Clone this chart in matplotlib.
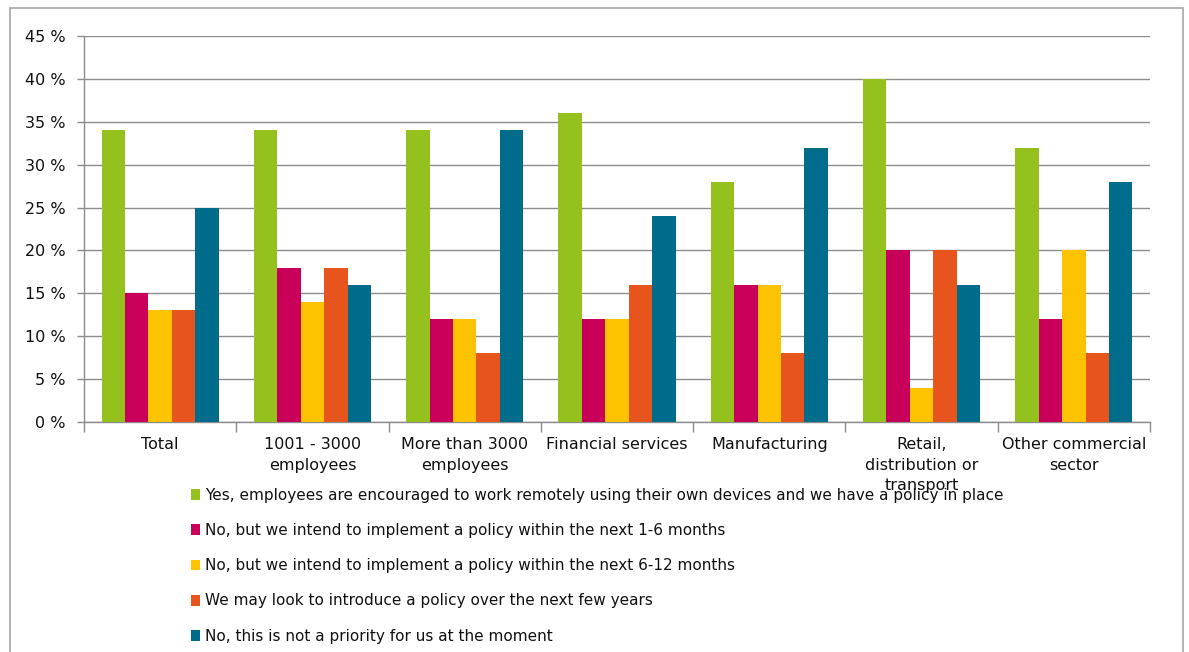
import matplotlib
matplotlib.use("Agg")
import matplotlib.pyplot as plt
from matplotlib.patches import Rectangle
import numpy as np

categories = ["Total", "1001 - 3000\nemployees", "More than 3000\nemployees",
              "Financial services", "Manufacturing",
              "Retail,\ndistribution or\ntransport", "Other commercial\nsector"]
series_labels = [
    "Yes, employees are encouraged to work remotely using their own devices and we have a policy in place",
    "No, but we intend to implement a policy within the next 1-6 months",
    "No, but we intend to implement a policy within the next 6-12 months",
    "We may look to introduce a policy over the next few years",
    "No, this is not a priority for us at the moment",
]
yes_policy = [34, 34, 34, 36, 28, 40, 32]
within_1_6 = [15, 18, 12, 12, 16, 20, 12]
within_6_12 = [13, 14, 12, 12, 16, 4, 20]
next_years = [13, 18, 8, 16, 8, 20, 8]
not_priority = [25, 16, 34, 24, 32, 16, 28]
series_values = [yes_policy, within_1_6, within_6_12, next_years, not_priority]
colors = ["#95C11F", "#C8005A", "#FDC300", "#E8541E", "#006C8C"]
y_ticks = list(range(0, 50, 5))

fig = plt.figure(figsize=(11.89, 6.52), dpi=100)
ax = fig.add_axes([84 / 1189, 1 - 422 / 652, (1150 - 84) / 1189, (422 - 36) / 652])

# outer frame around the chart area
fig.add_artist(Rectangle((10 / 1189, -0.05), (1183 - 10) / 1189, (0.05 + 1 - 8 / 652),
                         transform=fig.transFigure, fill=False,
                         edgecolor="#A6A6A6", linewidth=1.2))

n = len(categories)
x = np.arange(n)
bw = 0.154
offsets = (np.arange(5) - 2) * bw
for vals, off, col, lab in zip(series_values, offsets, colors, series_labels):
    ax.bar(x + off, vals, width=bw, color=col, label=lab, zorder=3, linewidth=0)

ax.set_xlim(-0.5, n - 0.5)
ax.set_ylim(0, 45)
ax.set_yticks(y_ticks)
ax.set_yticklabels([f"{v} %" for v in y_ticks], fontsize=11.5, color="#111111")
ax.yaxis.grid(True, color="#8C8C8C", linewidth=1.0, zorder=0)
ax.set_axisbelow(True)

ax.set_xticks(np.arange(-0.5, n, 1.0))
ax.set_xticklabels([])
ax.set_xticks(x, minor=True)
ax.set_xticklabels(categories, minor=True, fontsize=11.5, color="#111111",
                   linespacing=1.45, va="top")
ax.tick_params(axis="x", which="minor", length=0, pad=11)
ax.tick_params(axis="x", which="major", length=7, color="#8C8C8C", width=1)
ax.tick_params(axis="y", length=5, color="#8C8C8C", width=1, pad=8)

for s in ["top", "right"]:
    ax.spines[s].set_visible(False)
for s in ["left", "bottom"]:
    ax.spines[s].set_color("#8C8C8C")
    ax.spines[s].set_linewidth(1.0)

leg = fig.legend(loc="upper left", bbox_to_anchor=(191 / 1189, 1 - 488 / 652),
                 frameon=False, fontsize=11, handlelength=0.6, handleheight=0.7,
                 handletextpad=0.3, labelspacing=1.32, borderpad=0, borderaxespad=0)
for t in leg.get_texts():
    t.set_color("#111111")

fig.savefig("out.png", dpi=100)
